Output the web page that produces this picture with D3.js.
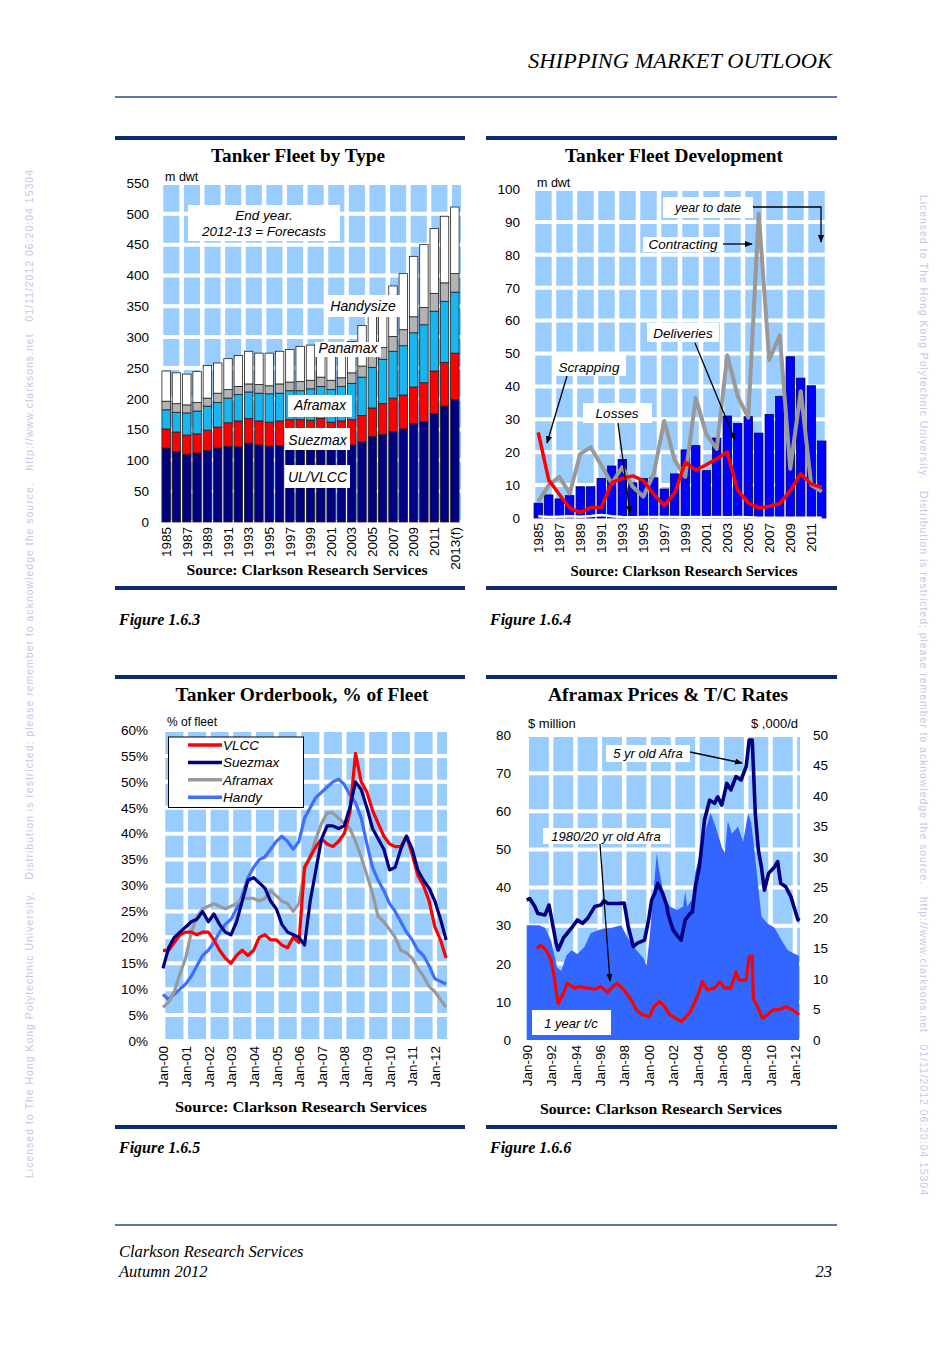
<!DOCTYPE html>
<html>
<head>
<meta charset="utf-8">
<script src="https://cdn.jsdelivr.net/npm/d3@7"></script>
<style>
body { margin: 0; background: #fff; }
svg { display: block; }
</style>
</head>
<body>
<script>
// ---- Figure 1.6.3 : Tanker fleet by type (m dwt, end year)
var fleetYears = ["1985","1986","1987","1988","1989","1990","1991","1992","1993","1994","1995","1996","1997","1998","1999",
                  "2000","2001","2002","2003","2004","2005","2006","2007","2008","2009","2010","2011","2012","2013"];
var ulvlcc    = [120,114,110,112,116,120,123,122,128,125,123,124,127,126,125,124,122,122,125,130,139,142,147,151,160,163,176,188,199];
var suezmax   = [31,32,31,31,33,34,38,42,40,39,39,40,39,40,40,44,40,42,41,43,46,50,54,55,59,63,69,71,75];
var aframax   = [31,32,36,37,39,40,40,43,43,45,46,45,47,47,51,52,53,56,59,62,66,72,76,80,88,94,97,99,99];
var panamax   = [14,14,13,14,13,15,14,13,13,14,13,15,14,15,14,15,15,14,17,18,23,19,24,26,26,28,29,30,30];
var handysize = [49,50,50,50,53,49,50,50,53,51,53,53,53,57,57,55,56,54,51,66,68,77,82,91,98,102,105,108,108];

// ---- Figure 1.6.4 : Tanker fleet development (m dwt)
var devYears    = ["1985","1986","1987","1988","1989","1990","1991","1992","1993","1994","1995","1996","1997","1998",
                   "1999","2000","2001","2002","2003","2004","2005","2006","2007","2008","2009","2010","2011","2012"];
var deliveries  = [4.5,7,5.8,6.8,9.5,9.5,12,15.8,17.8,10.7,12,12.2,8.8,13.4,20.7,22,14.4,24.3,31,28.7,30.8,25.8,31.5,37,49,42.5,40.2,23.4];
var contracting = [5,10,12.5,7.5,19.5,21.5,16,10.5,15.5,9.5,6.5,13.5,29.5,17.5,12.5,36.5,25.5,21,49.5,37,30.5,92.5,48,55.5,15,38.5,10,8];
var scrapping   = [26,11.5,7.2,3,1.7,3.2,3.2,10.8,12,12.8,11.4,7.2,3.8,7.6,17,14.5,16.2,18,20,8.3,4.6,3,3.6,4.4,8.3,13.4,10.3,9.3];
var losses      = [0.5,0.3,0.4,0.5,0.4,0.6,0.9,0.5,0.3,0.2,0.3,0.3,0.3,0.3,0.2,0.3,0.2,0.3,0.2,0.3,0.2,0.1,0.1,0.1,0.1,0.1,0.1,0.1];

// ---- Figure 1.6.5 : Tanker orderbook, % of fleet (quarterly readings)
var obMonths = ["2000-01","2000-04","2000-07","2000-10","2001-01","2001-04","2001-07","2001-10","2002-01","2002-04","2002-07","2002-10",
                "2003-01","2003-04","2003-07","2003-10","2004-01","2004-04","2004-07","2004-10","2005-01","2005-04","2005-07","2005-10",
                "2006-01","2006-04","2006-07","2006-10","2007-01","2007-04","2007-07","2007-10","2008-01","2008-04","2008-07","2008-10",
                "2009-01","2009-04","2009-07","2009-10","2010-01","2010-04","2010-07","2010-10","2011-01","2011-04","2011-07","2011-10",
                "2012-01","2012-04","2012-07"];
var vlccOB  = [17.5,17.5,19,20.5, 21,21,20.5,21, 21,19.5,17.5,16, 15,16.5,17.5,16.5, 17.5,20,20.5,19.5, 19.5,18.5,18,20,
               19,33.5,35.5,37.5, 39,38,37.5,38.5, 40,44,55.5,50, 48,44.5,42,39.5, 38,37.5,37.5,39.5, 36,32,30,27, 22,19.5,16];
var suezOB  = [14,18,20,21, 22,23,23.5,25, 23,24.5,22.5,21, 20.5,23,27,31, 31.5,30.5,29.5,27, 25.5,22.5,21,20.5,
               20,18.5,27,33, 39,41.5,41.5,41, 41.5,45,50,48.5, 45,41,39,37, 33,33.5,37,39.5, 37,33,31,29.5, 27,23.5,19.5];
var afraOB  = [6.5,7.5,9.5,13, 16,21,24,25.5, 26,26.5,26,25.5, 26,26.5,27.5,27.5, 27.5,27,27.5,29, 28,27,26.5,25,
               26.5,33,35.5,39, 42,44,44,43, 42,41,38.5,35.5, 32,28.5,24,23, 21.5,20,17.5,17, 16,14,12.5,10.5, 9.5,8,6.5];
var handyOB = [9,8,9,10, 11,12.5,14.5,16.5, 17.5,19,21,22.5, 23.5,25.5,28,31.5, 33.5,35,35.5,37, 38.5,39.5,38.5,37,
               38.5,43,45,47, 48,49,50,50.5, 49.5,47.5,46,43, 38,33.5,31,29, 26.5,25,23,21, 19.5,17.5,16.5,14.5, 12,11.5,11];

// ---- Figure 1.6.6 : Aframax prices ($m, left) & 1 year t/c ($,000/d, right)
var fiveYrMonths = ["1990-01","1990-04","1990-09","1990-12","1991-07","1991-11","1992-03","1992-06","1992-08","1993-01","1993-05","1993-10",
                    "1994-03","1994-08","1995-01","1995-08","1996-02","1996-05","1996-09","1997-06","1998-01","1998-05","1998-10","1999-02",
                    "1999-09","2000-01","2000-04","2000-07","2000-10","2001-03","2001-07","2001-08","2002-01","2002-06","2002-09","2003-01",
                    "2003-06","2003-08","2003-11","2004-03","2004-08","2005-01","2005-06","2005-09","2006-01","2006-06","2006-10","2007-03",
                    "2007-08","2008-01","2008-04","2008-07","2008-10","2009-01","2009-04","2009-07","2009-11","2010-05","2010-08","2010-11",
                    "2011-04","2011-09","2012-01","2012-04","2012-05"];
var fiveYrPrice  = [36.7,37.1,35,33.2,32.8,35.4,29.7,25.4,23.6,26.7,28,29.7,
                    31.5,30.6,31.9,35,35.4,36.5,35.8,35.8,35.9,29.7,24.5,25.4,
                    26.2,31.5,36.7,38.4,41.1,38.4,35,33.2,28.9,27.1,26.2,31.5,
                    33.2,33.5,40.2,45.4,57.7,62.9,62.1,63.8,61.6,67.3,65.6,69.1,
                    68.2,71.7,78.7,78.7,59.4,49.8,45.4,39.3,43.7,45.4,46.8,41.1,
                    40.2,37.6,34.1,31.5,32];
var oldMonths = ["1990-11","1991-03","1991-08","1992-01","1992-04","1992-08","1993-01","1993-05","1993-12","1994-06","1995-01","1995-08",
                 "1996-02","1996-09","1996-12","1997-06","1998-01","1998-08","1999-01","1999-07","2000-02","2000-06","2000-12","2001-05",
                 "2001-10","2002-04","2002-09","2003-02","2003-06","2004-01","2004-06","2004-11","2005-06","2005-11","2006-04","2006-10",
                 "2007-03","2007-06","2008-01","2008-04","2008-07","2008-08","2009-01","2009-05","2009-10","2010-03","2010-09","2011-04",
                 "2011-11","2012-05"];
var oldPrice  = [24,24.9,23.6,21,16.6,9.6,12.2,14.9,13.6,14,13.6,13.3,
                 14,12.4,13.6,14.9,13.1,10.5,7.9,6.6,6.1,8.7,10.1,8.7,
                 6.6,5.7,4.8,6.1,7.4,11.4,15.3,13.1,13.6,15.3,13.6,13.6,
                 17.9,15.7,15.7,21.9,22,10.9,8.3,5.7,6.6,7.9,7.9,8.7,
                 7.9,6.6];
var tcMonths = ["1990-01","1990-07","1991-01","1991-07","1992-01","1992-07","1992-11","1993-04","1993-09","1994-03","1994-10","1995-04",
                "1996-01","1997-01","1997-10","1998-04","1999-01","1999-08","1999-11","2000-02","2000-05","2000-09","2000-11","2001-04",
                "2001-10","2002-05","2002-11","2003-01","2003-03","2003-08","2003-11","2004-05","2004-10","2005-02","2005-07","2006-01",
                "2006-04","2006-07","2006-11","2007-05","2007-10","2008-03","2008-06","2008-09","2009-01","2009-04","2009-10","2010-05",
                "2010-12","2011-06","2012-01","2012-05"];
var tcRate   = [18.8,18.8,18.8,18.4,16.3,11.9,11.3,13.8,14.7,14.1,15.3,17.5,
                18.1,18.4,18.8,16.9,14.7,13.4,12.2,16.9,22.5,30.6,28.1,23.8,
                21.9,21.3,21.9,24.4,21.9,23.1,27.5,31.6,35,37.2,35,31.6,
                30.6,35.9,33.8,35,32.5,37.2,35.6,31.3,25,20.3,19.1,18.4,
                16.3,14.7,14.1,13.8];

var SERIF = "'Liberation Serif','Times New Roman',serif";
var SANS = "'Liberation Sans',Arial,sans-serif";
var NAVY_RULE = "#0b2a6f";
var LIGHT = "#99ccff";

var svg = d3.select("body").append("svg").attr("width", 952).attr("height", 1347);
var defs = svg.append("defs");
defs.append("marker").attr("id", "arr").attr("viewBox", "0 0 10 10")
    .attr("refX", 9).attr("refY", 5).attr("markerWidth", 6).attr("markerHeight", 6)
    .attr("orient", "auto")
    .append("path").attr("d", "M0,1L10,5L0,9Z").attr("fill", "#000");

var parseM = d3.timeParse("%Y-%m");

// ---------- page furniture
svg.append("text").attr("x", 832).attr("y", 68).attr("text-anchor", "end")
    .attr("font-family", SERIF).attr("font-style", "italic").attr("font-size", 20)
    .attr("textLength", 304).attr("lengthAdjust", "spacingAndGlyphs")
    .text("SHIPPING MARKET OUTLOOK");
svg.append("line").attr("x1", 115).attr("x2", 837).attr("y1", 97).attr("y2", 97)
    .attr("stroke", "#2c4c8c").attr("stroke-width", 1.5);
svg.append("line").attr("x1", 115).attr("x2", 837).attr("y1", 1225).attr("y2", 1225)
    .attr("stroke", "#2c4c8c").attr("stroke-width", 1.5);
svg.append("text").attr("x", 119).attr("y", 1257).attr("font-family", SERIF).attr("font-style", "italic")
    .attr("font-size", 16.5).text("Clarkson Research Services");
svg.append("text").attr("x", 119).attr("y", 1277).attr("font-family", SERIF).attr("font-style", "italic")
    .attr("font-size", 16.5).text("Autumn 2012");
svg.append("text").attr("x", 832).attr("y", 1277).attr("text-anchor", "end").attr("font-family", SERIF)
    .attr("font-style", "italic").attr("font-size", 16.5).text("23");

var wm = "Licensed to The Hong Kong Polytechnic University.   Distribution is restricted; please remember to acknowledge the source.   http://www.clarksons.net   01/11/2012 06:20:04 15304";
svg.append("text").attr("transform", "translate(33,1178) rotate(-90)")
    .attr("font-family", SANS).attr("font-size", 10.5).attr("fill", "#c2c9ea")
    .attr("textLength", 1008).attr("lengthAdjust", "spacing").style("white-space", "pre").text(wm);
svg.append("text").attr("transform", "translate(920,195) rotate(90)")
    .attr("font-family", SANS).attr("font-size", 10.5).attr("fill", "#c2c9ea")
    .attr("textLength", 1000).attr("lengthAdjust", "spacing").style("white-space", "pre").text(wm);

function panel(x0, x1, yTop, yBot, title, titleX, titleY, titleW, fig, figY, src, srcX, srcY, srcW) {
    svg.append("rect").attr("x", x0).attr("y", yTop - 2).attr("width", x1 - x0).attr("height", 4).attr("fill", NAVY_RULE);
    svg.append("rect").attr("x", x0).attr("y", yBot - 2).attr("width", x1 - x0).attr("height", 4).attr("fill", NAVY_RULE);
    svg.append("text").attr("x", titleX).attr("y", titleY).attr("text-anchor", "middle")
        .attr("font-family", SERIF).attr("font-weight", "bold").attr("font-size", 18)
        .attr("textLength", titleW).attr("lengthAdjust", "spacingAndGlyphs").text(title);
    svg.append("text").attr("x", x0 + 4).attr("y", figY).attr("font-family", SERIF).attr("font-weight", "bold")
        .attr("font-style", "italic").attr("font-size", 16).text(fig);
    svg.append("text").attr("x", srcX).attr("y", srcY).attr("text-anchor", "middle")
        .attr("font-family", SERIF).attr("font-weight", "bold").attr("font-size", 14.5)
        .attr("textLength", srcW).attr("lengthAdjust", "spacingAndGlyphs").text(src);
}

function plotBg(id, x0, x1, y0, y1, hs, vs) {
    defs.append("clipPath").attr("id", id).append("rect")
        .attr("x", x0).attr("y", y0).attr("width", x1 - x0).attr("height", y1 - y0);
    var bg = svg.append("g").attr("clip-path", "url(#" + id + ")");
    bg.append("rect").attr("x", x0).attr("y", y0).attr("width", x1 - x0).attr("height", y1 - y0).attr("fill", LIGHT);
    bg.selectAll("line.h").data(hs).join("line").attr("class", "h")
        .attr("x1", x0).attr("x2", x1).attr("y1", function (d) { return d; }).attr("y2", function (d) { return d; })
        .attr("stroke", "#fff").attr("stroke-width", 4);
    bg.selectAll("line.v").data(vs).join("line").attr("class", "v")
        .attr("y1", y0).attr("y2", y1).attr("x1", function (d) { return d; }).attr("x2", function (d) { return d; })
        .attr("stroke", "#fff").attr("stroke-width", 4.5);
}

function styleAxis(sel, size) {
    sel.select(".domain").remove();
    sel.selectAll("text").attr("font-family", SANS).attr("font-size", size || 13.5).attr("fill", "#000");
}

function rotateLabels(sel) {
    sel.selectAll("text").attr("transform", "rotate(-90)").attr("text-anchor", "end")
        .attr("x", -5).attr("y", 0).attr("dy", "0.35em");
}

function tag(x0, y0, x1, y1, txt, cx, by, size) {
    svg.append("rect").attr("x", x0).attr("y", y0).attr("width", x1 - x0).attr("height", y1 - y0).attr("fill", "#fff");
    svg.append("text").attr("x", cx).attr("y", by).attr("text-anchor", "middle")
        .attr("font-family", SANS).attr("font-style", "italic").attr("font-size", size || 14).text(txt);
}

function arrow(pts) {
    svg.append("path").attr("d", d3.line()(pts)).attr("fill", "none").attr("stroke", "#000")
        .attr("stroke-width", 1.3).attr("marker-end", "url(#arr)");
}

function plainText(x, y, txt, anchor, size) {
    svg.append("text").attr("x", x).attr("y", y).attr("text-anchor", anchor || "start")
        .attr("font-family", SANS).attr("font-size", size || 13).text(txt);
}

// ================= Figure 1.6.3
panel(115, 465, 138, 588, "Tanker Fleet by Type", 298, 162, 174, "Figure 1.6.3", 625,
      "Source: Clarkson Research Services", 307, 575, 241);

var x1 = d3.scaleBand().domain(fleetYears).range([161, 460]).paddingInner(0.18).paddingOuter(0.09);
var y1 = d3.scaleLinear().domain([0, 550]).range([522, 183]);
plotBg("c1", 161, 461, 183, 522, d3.range(0, 551, 50).map(y1),
       d3.range(0, 30, 2).map(function (k) { return 161 + k * x1.step(); }));

var fleetRows = fleetYears.map(function (yr, i) {
    return { year: yr, ulvlcc: ulvlcc[i], suezmax: suezmax[i], aframax: aframax[i], panamax: panamax[i], handysize: handysize[i] };
});
var fleetKeys = ["ulvlcc", "suezmax", "aframax", "panamax", "handysize"];
var fleetColors = { ulvlcc: "#000080", suezmax: "#ff0000", aframax: "#19b5ee", panamax: "#b3b3b3", handysize: "#ffffff" };
var fleetStack = d3.stack().keys(fleetKeys)(fleetRows);
svg.append("g").selectAll("g").data(fleetStack).join("g")
    .attr("fill", function (s) { return fleetColors[s.key]; })
    .selectAll("rect").data(function (s) { return s; }).join("rect")
    .attr("x", function (d) { return x1(d.data.year); })
    .attr("width", x1.bandwidth())
    .attr("y", function (d) { return y1(d[1]); })
    .attr("height", function (d) { return y1(d[0]) - y1(d[1]); })
    .attr("stroke", "#222").attr("stroke-width", 0.8);

svg.append("g").attr("transform", "translate(149,0)")
    .call(d3.axisLeft(y1).tickValues(d3.range(0, 551, 50)).tickSize(0).tickPadding(0))
    .call(styleAxis);
svg.append("g").attr("transform", "translate(0,522)")
    .call(d3.axisBottom(x1).tickValues(fleetYears.filter(function (d, i) { return i % 2 === 0; }))
        .tickSize(0).tickFormat(function (d) { return d === "2013" ? "2013(f)" : d; }))
    .call(styleAxis).call(rotateLabels);

plainText(165, 181, "m dwt", "start", 12.5);
tag(188, 205, 340, 241, "End year.", 264, 220, 13.5);
svg.append("text").attr("x", 264).attr("y", 236).attr("text-anchor", "middle").attr("font-family", SANS)
    .attr("font-style", "italic").attr("font-size", 13.5).text("2012-13 = Forecasts");
tag(327, 295, 400, 317, "Handysize", 363, 311);
tag(315, 342, 381, 357, "Panamax", 348, 353);
tag(288, 395, 352, 417, "Aframax", 320, 410);
tag(285, 428, 350, 450, "Suezmax", 317.5, 445);
tag(285, 465, 350, 488, "UL/VLCC", 317.5, 482);

// ================= Figure 1.6.4
panel(486, 837, 138, 588, "Tanker Fleet Development", 674, 162, 218, "Figure 1.6.4", 625,
      "Source: Clarkson Research Services", 684, 576, 227);

var x2 = d3.scaleBand().domain(devYears).range([533, 827]).paddingInner(0.2).paddingOuter(0.1);
var y2 = d3.scaleLinear().domain([0, 100]).range([518, 189]);
plotBg("c2", 533, 828, 189, 518, d3.range(0, 101, 10).map(y2),
       d3.range(0, 29, 2).map(function (k) { return 533 + k * x2.step(); }));

svg.append("g").selectAll("rect").data(devYears).join("rect")
    .attr("x", function (d) { return x2(d); }).attr("width", x2.bandwidth())
    .attr("y", function (d, i) { return y2(deliveries[i]); })
    .attr("height", function (d, i) { return y2(0) - y2(deliveries[i]); })
    .attr("fill", "#0000ff").attr("stroke", "#000066").attr("stroke-width", 0.8);

function devLine(vals, color, w) {
    var ln = d3.line().x(function (d, i) { return x2(devYears[i]) + x2.bandwidth() / 2; }).y(function (d) { return y2(d); });
    svg.append("path").datum(vals).attr("d", ln).attr("fill", "none").attr("stroke", color)
        .attr("stroke-width", w).attr("stroke-linejoin", "round");
}
devLine(contracting, "#999999", 4);
devLine(scrapping, "#ff0000", 3.5);
devLine(losses, "#ffffff", 2.5);

svg.append("g").attr("transform", "translate(520,0)")
    .call(d3.axisLeft(y2).tickValues(d3.range(0, 101, 10)).tickSize(0).tickPadding(0))
    .call(styleAxis);
svg.append("g").attr("transform", "translate(0,518)")
    .call(d3.axisBottom(x2).tickValues(devYears.filter(function (d, i) { return i % 2 === 0; })).tickSize(0))
    .call(styleAxis).call(rotateLabels);

plainText(537, 187, "m dwt", "start", 12.5);
tag(663, 197, 753, 218, "year to date", 708, 212, 12.5);
arrow([[753, 207], [821, 207], [821, 242]]);
tag(643, 237, 723, 252, "Contracting", 683, 249, 13.5);
arrow([[723, 244], [752, 244]]);
tag(647, 323, 719, 342, "Deliveries", 683, 338, 13.5);
arrow([[695, 343], [735, 440]]);
tag(553, 355, 626, 376, "Scrapping", 589, 372, 13.5);
arrow([[567, 376], [547, 443]]);
tag(583, 403, 652, 423, "Losses", 617, 418, 13.5);
arrow([[618, 423], [630, 513]]);

// ================= Figure 1.6.5
panel(115, 465, 677, 1127, "Tanker Orderbook, % of Fleet", 302, 701, 253, "Figure 1.6.5", 1153,
      "Source: Clarkson Research Services", 301, 1112, 252);

var x3 = d3.scaleTime().domain([new Date(2000, 0, 1), new Date(2012, 6, 15)]).range([163, 447]);
var y3 = d3.scaleLinear().domain([0, 60]).range([1041, 730]);
var obYears = d3.range(2000, 2013).map(function (y) { return new Date(y, 0, 1); });
plotBg("c3", 163, 447, 730, 1039, d3.range(0, 61, 5).map(y3), obYears.map(x3));

var obSeries = [
    { name: "Handy", vals: handyOB, color: "#3f6fff" },
    { name: "Aframax", vals: afraOB, color: "#999999" },
    { name: "VLCC", vals: vlccOB, color: "#ff0000" },
    { name: "Suezmax", vals: suezOB, color: "#000080" }
];
var obLine = d3.line().x(function (d, i) { return x3(parseM(obMonths[i])); }).y(function (d) { return y3(d); });
obSeries.forEach(function (s) {
    svg.append("path").datum(s.vals).attr("d", obLine).attr("fill", "none")
        .attr("stroke", s.color).attr("stroke-width", 3.2).attr("stroke-linejoin", "round");
});

svg.append("g").attr("transform", "translate(148,0)")
    .call(d3.axisLeft(y3).tickValues(d3.range(0, 61, 5)).tickSize(0).tickPadding(0)
        .tickFormat(function (d) { return d + "%"; }))
    .call(styleAxis);
svg.append("g").attr("transform", "translate(0,1041)")
    .call(d3.axisBottom(x3).tickValues(obYears).tickSize(0).tickFormat(d3.timeFormat("Jan-%y")))
    .call(styleAxis).call(rotateLabels);

plainText(167, 726, "% of fleet", "start", 12);
// legend
var legendItems = [
    { name: "VLCC", color: "#ff0000" },
    { name: "Suezmax", color: "#000080" },
    { name: "Aframax", color: "#999999" },
    { name: "Handy", color: "#3f6fff" }
];
svg.append("rect").attr("x", 168.5).attr("y", 737).attr("width", 135).attr("height", 70.5)
    .attr("fill", "#fff").attr("stroke", "#000").attr("stroke-width", 1);
legendItems.forEach(function (it, i) {
    var yy = 745 + i * 17.4;
    svg.append("line").attr("x1", 188).attr("x2", 222).attr("y1", yy).attr("y2", yy)
        .attr("stroke", it.color).attr("stroke-width", 3.5);
    svg.append("text").attr("x", 223).attr("y", yy + 5).attr("font-family", SANS).attr("font-style", "italic")
        .attr("font-size", 13.5).text(it.name);
});

// ================= Figure 1.6.6
panel(486, 837, 677, 1127, "Aframax Prices & T/C Rates", 668, 701, 240, "Figure 1.6.6", 1153,
      "Source: Clarkson Research Services", 661, 1114, 242);

var x4 = d3.scaleTime().domain([new Date(1990, 0, 1), new Date(2012, 5, 1)]).range([526.7, 800]);
var yL = d3.scaleLinear().domain([0, 80]).range([1040, 735]);
var yR = d3.scaleLinear().domain([0, 50]).range([1040, 735]);
var evenYears = d3.range(1990, 2013, 2).map(function (y) { return new Date(y, 0, 1); });
plotBg("c4", 526, 800, 735, 1040, d3.range(0, 81, 10).map(yL), evenYears.map(x4));

var tcArea = d3.area().x(function (d, i) { return x4(parseM(tcMonths[i])); })
    .y0(yR(0)).y1(function (d) { return yR(d); });
svg.append("path").datum(tcRate).attr("d", tcArea).attr("fill", "#3366ff");

var fiveLine = d3.line().x(function (d, i) { return x4(parseM(fiveYrMonths[i])); }).y(function (d) { return yL(d); });
svg.append("path").datum(fiveYrPrice).attr("d", fiveLine).attr("fill", "none")
    .attr("stroke", "#000080").attr("stroke-width", 3.6).attr("stroke-linejoin", "round");
var oldLine = d3.line().x(function (d, i) { return x4(parseM(oldMonths[i])); }).y(function (d) { return yL(d); });
svg.append("path").datum(oldPrice).attr("d", oldLine).attr("fill", "none")
    .attr("stroke", "#ff0000").attr("stroke-width", 3.2).attr("stroke-linejoin", "round");

svg.append("g").attr("transform", "translate(511,0)")
    .call(d3.axisLeft(yL).tickValues(d3.range(0, 81, 10)).tickSize(0).tickPadding(0))
    .call(styleAxis);
svg.append("g").attr("transform", "translate(813,0)")
    .call(d3.axisRight(yR).tickValues(d3.range(0, 51, 5)).tickSize(0).tickPadding(0))
    .call(styleAxis);
svg.append("g").attr("transform", "translate(0,1040)")
    .call(d3.axisBottom(x4).tickValues(evenYears).tickSize(0).tickFormat(d3.timeFormat("Jan-%y")))
    .call(styleAxis).call(rotateLabels);

plainText(528, 728, "$ million", "start", 13);
plainText(798, 728, "$ ,000/d", "end", 13);
tag(606, 745, 690, 762, "5 yr old Afra", 648, 758, 13);
arrow([[690, 752], [742, 763]]);
tag(543, 828, 670, 844, "1980/20 yr old Afra", 606, 841, 13);
arrow([[600, 844], [610, 981]]);
tag(532, 1010, 611, 1035, "1 year t/c", 571, 1028, 13);
</script>
</body>
</html>
